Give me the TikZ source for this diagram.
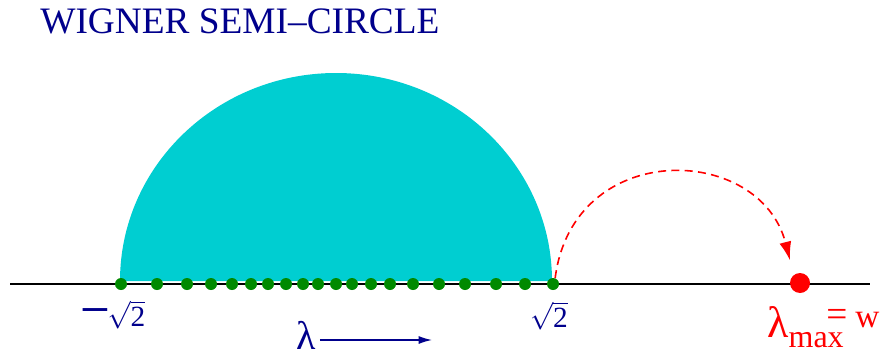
\documentclass[tikz,border=0pt]{standalone}
\usepackage{fontspec}
\setmainfont{Liberation Serif}
\usetikzlibrary{arrows.meta}

\definecolor{navyblue}{RGB}{0,0,140}
\definecolor{wignercyan}{RGB}{0,206,209}
\definecolor{dotgreen}{RGB}{0,138,0}

\tikzset{
  gdot/.style={circle, fill=dotgreen, inner sep=0pt, minimum size=9pt},
  lab/.style={text=navyblue, inner sep=0pt, font=\fontsize{22}{24}\selectfont}
}

\begin{document}
\begin{tikzpicture}[x=0.75pt, y=0.75pt]
        \useasboundingbox (0,0) rectangle (891,358);
        % the semi-circle density
        \fill[wignercyan] (120,77) arc[start angle=180, end angle=0, x radius=216, y radius=208] -- cycle;
        \node[anchor=base west, text=navyblue, inner sep=0pt, font=\fontsize{28}{32}\selectfont] (title) at (40,325) {WIGNER SEMI–CIRCLE};
        % real axis
        \coordinate (axl) at (10,74);
        \coordinate (axr) at (870,74);
        \draw[line width=0.8pt] (axl) -- (axr);
        % eigenvalues
        \foreach \x [count=\i] in {121,157,187,211,232,251,268,286,303,318,336,352,371,390,413,439,465,496,525,553}
            \node[gdot] (e\i) at (\x,74) {};
        \node[circle, fill=red, inner sep=0pt, minimum size=15pt] (wdot) at (800,75) {};
        \node[lab, anchor=base] (lneg) at (113,32) {\raisebox{-2.5pt}{\scalebox{1.8}[2]{−}}\kern-2pt$\sqrt{\mbox{2}}$};
        \node[lab, anchor=base] (lpos) at (549,31) {$\sqrt{\mbox{2}}$};
        % lambda direction
        \node[text=navyblue, inner sep=0pt, font=\fontsize{30}{31}\selectfont] (lam) at (306,23) {λ};
        \coordinate (lamend) at (432,18);
        \draw[navyblue, line width=1.1pt, -{Latex[length=10pt, width=6pt]}] (lam.east |- lamend) ++(4,0) -- (lamend);
        % largest eigenvalue pulled out
        \node[anchor=base west, text=red, inner sep=0pt] (wlab) at (767,21)
            {\fontsize{33}{34}\selectfont λ\raisebox{-7.5pt}{\fontsize{24}{26}\selectfont max}\kern-13pt\raisebox{8pt}{\fontsize{28}{28}\selectfont =}\kern6pt\raisebox{7.5pt}{\fontsize{25}{26}\selectfont w}};
        \coordinate (tip) at ([xshift=-7.5pt, yshift=17pt]wdot.center);
        \draw[red, line width=1.2pt, dash pattern=on 6pt off 4pt, -{Latex[length=14pt, width=9pt]}] (e20.70) .. controls +(18,140) and +(-30,117) .. (tip);
\end{tikzpicture}
\end{document}
